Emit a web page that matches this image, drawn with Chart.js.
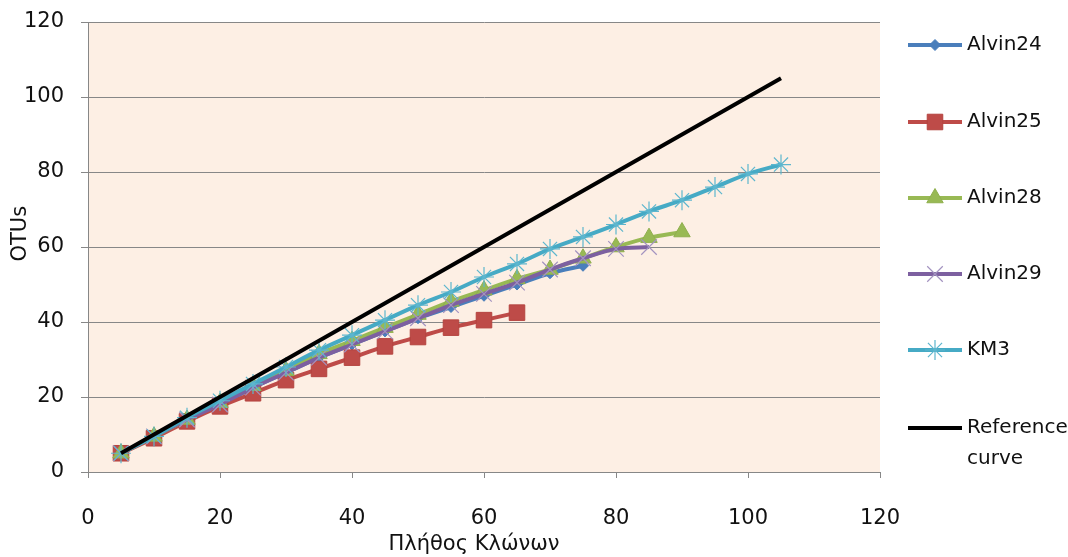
<!DOCTYPE html>
<html>
<head>
<meta charset="utf-8">
<script src="https://cdn.jsdelivr.net/npm/chart.js@4/dist/chart.umd.min.js"></script>
<style>
html,body{margin:0;padding:0;background:#fff;}
#wrap{width:1068px;height:557px;}
</style>
</head>
<body>
<div id="wrap"><canvas id="c" width="1068" height="557"></canvas></div>
<script>
const clones = [5,10,15,20,25,30,35,40,45,50,55,60,65,70,75,80,85,90,95,100,105];
const alvin24 = [5,9.5,14,18,22.5,26.5,30.5,34,37.5,41,44,47,50,53,55];
const alvin25 = [5,9,13.5,17.5,21,24.5,27.5,30.5,33.5,36,38.5,40.5,42.5];
const alvin28 = [5,9.5,14,18.5,23,27,31.5,35,38.5,42,45.5,48.5,51.5,54,57,60,62.5,64];
const alvin29 = [5,9.5,14,18,22.5,26.5,30.5,34,37.5,41,44.5,47.5,50.5,54,57,59.5,60];
const km3 = [5,9.5,14.5,19,23.5,28,32.5,36.5,40.5,44.5,48,52,55.5,59.5,62.7,66,69.5,72.5,76,79.5,82];
const refX = [5,105];
const refY = [5,105];
const xTicks = [0,20,40,60,80,100,120];
const yTicks = [0,20,40,60,80,100,120];

const pts = (xs, ys) => ys.map((y,i)=>({x:xs[i], y:y}));
const FONT = "'DejaVu Sans', sans-serif";

const series = [
  {label:'Alvin24', data:pts(clones,alvin24), borderColor:'#4A7EBB', backgroundColor:'#4A7EBB', pointStyle:'rectRot', pointRadius:5.5, pointBorderColor:'#4A7EBB', pointBackgroundColor:'#4A7EBB', pointBorderWidth:1},
  {label:'Alvin25', data:pts(clones,alvin25), borderColor:'#BE4B48', backgroundColor:'#BE4B48', pointStyle:'rect', pointRadius:11, pointBorderColor:'#B5433F', pointBackgroundColor:'#BE4B48', pointBorderWidth:1},
  {label:'Alvin28', data:pts(clones,alvin28), borderColor:'#98B954', backgroundColor:'#98B954', pointStyle:'triangle', pointRadius:9.5, pointBorderColor:'#8FAF4E', pointBackgroundColor:'#98B954', pointBorderWidth:1},
  {label:'Alvin29', data:pts(clones,alvin29), borderColor:'#7D60A0', backgroundColor:'#7D60A0', pointStyle:'crossRot', pointRadius:11, pointBorderColor:'#A393C0', pointBackgroundColor:'#A393C0', pointBorderWidth:1.2},
  {label:'KM3', data:pts(clones,km3), borderColor:'#46AAC5', backgroundColor:'#46AAC5', pointStyle:'star', pointRadius:10, pointBorderColor:'#5DB6CE', pointBackgroundColor:'#5DB6CE', pointBorderWidth:1.2},
  {label:'Reference curve', data:pts(refX,refY), borderColor:'#000000', backgroundColor:'#000000', pointStyle:false, pointRadius:0, borderWidth:4}
];
const datasets = series.map((s,i)=>Object.assign({
  showLine:true, borderWidth:4, tension:0.3, order: series.length - i, pointHoverRadius: s.pointRadius
}, s));

const bgPlugin = {
  id:'plotBg',
  beforeDraw(chart){
    const {ctx, chartArea:a} = chart;
    ctx.save();
    ctx.fillStyle = '#FDEFE4';
    ctx.fillRect(a.left, a.top, a.right-a.left, a.bottom-a.top);
    ctx.restore();
  }
};

const legendPlugin = {
  id:'customLegend',
  afterDraw(chart){
    const ctx = chart.ctx;
    const ys = [45,122,198,274,350,428];
    ctx.save();
    chart.data.datasets.forEach((ds,i)=>{
      const y = ys[i];
      ctx.strokeStyle = ds.borderColor;
      ctx.lineWidth = 4;
      ctx.beginPath(); ctx.moveTo(908,y); ctx.lineTo(962,y); ctx.stroke();
      if (ds.pointStyle){
        ctx.fillStyle = ds.pointBackgroundColor;
        ctx.strokeStyle = ds.pointBorderColor;
        ctx.lineWidth = ds.pointBorderWidth;
        Chart.helpers.drawPoint(ctx, {pointStyle:ds.pointStyle, radius:ds.pointRadius, rotation:0, borderWidth:ds.pointBorderWidth}, 935, y);
      }
      ctx.fillStyle = '#111';
      ctx.font = '20px ' + FONT;
      ctx.textBaseline = 'middle';
      ctx.textAlign = 'left';
      if (ds.label === 'Reference curve'){
        ctx.fillText('Reference', 967, y);
        ctx.fillText('curve', 967, y+31);
      } else {
        ctx.fillText(ds.label, 967, y);
      }
    });
    ctx.restore();
  }
};

new Chart(document.getElementById('c'), {
  type:'scatter',
  data:{datasets},
  options:{
    responsive:false,
    animation:false,
    devicePixelRatio:1,
    layout:{padding:{left:0,right:188,top:0,bottom:0}},
    plugins:{legend:{display:false}, tooltip:{enabled:false}},
    scales:{
      x:{
        type:'linear', min:0, max:120,
        afterBuildTicks(s){ s.ticks = xTicks.map(v=>({value:v})); },
        afterFit(s){ s.height = 85; },
        grid:{drawOnChartArea:false, drawTicks:true, tickLength:6, color:'#878787', lineWidth:1},
        border:{display:true, color:'#878787', width:1},
        ticks:{font:{family:FONT, size:21}, color:'#111', padding:28, maxRotation:0},
        title:{display:true, text:'Πλήθος Κλώνων   ', font:{family:FONT, size:21}, color:'#111', padding:{top:0,bottom:0}}
      },
      y:{
        type:'linear', min:0, max:120,
        afterBuildTicks(s){ s.ticks = yTicks.map(v=>({value:v})); },
        afterFit(s){ s.width = 88; },
        grid:{drawOnChartArea:true, drawTicks:true, tickLength:7, color:'#878787', lineWidth:1},
        border:{display:true, color:'#878787', width:1},
        ticks:{font:{family:FONT, size:21, lineHeight:0.48}, color:'#111', padding:17},
        title:{display:true, text:'    OTUs', font:{family:FONT, size:21}, color:'#111', padding:{top:8,bottom:0}}
      }
    }
  },
  plugins:[bgPlugin, legendPlugin]
});
</script>
</body>
</html>
